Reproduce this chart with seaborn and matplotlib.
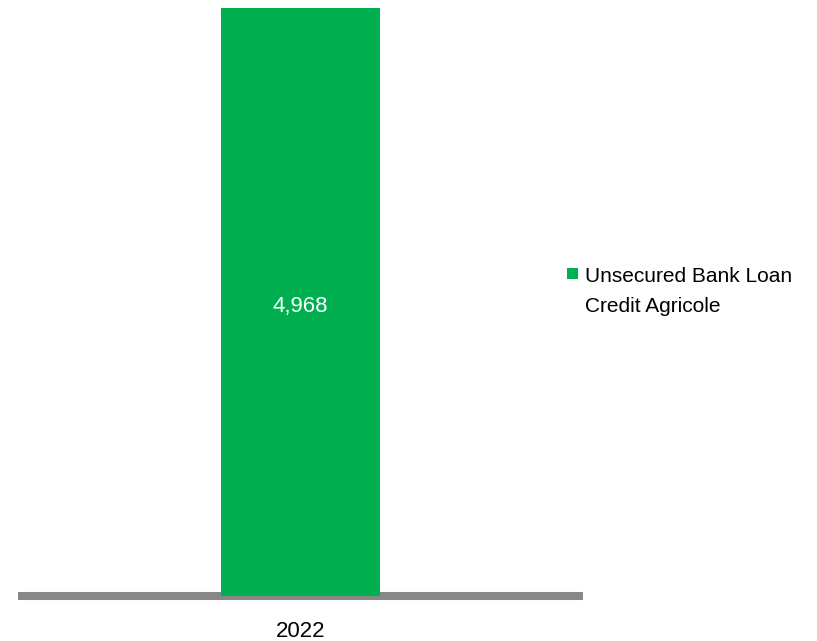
import matplotlib
matplotlib.use('Agg')
import matplotlib.pyplot as plt
import seaborn as sns
import pandas as pd
from matplotlib.patches import Patch, Rectangle
from matplotlib.legend_handler import HandlerPatch

# data
years = ['2022']
values = [4968]
series_name = 'Unsecured Bank Loan\nCredit Agricole'

df = pd.DataFrame({'year': years, 'value': values})

sns.set_style('white')
plt.rcParams['font.family'] = ['Liberation Sans', 'DejaVu Sans']

fig = plt.figure(figsize=(8.17, 6.41), dpi=100)
ax = fig.add_axes([18 / 817, 45 / 641, 565 / 817, 588 / 641])

sns.barplot(data=df, x='year', y='value', color='#00B050', saturation=1,
            width=0.281, ax=ax, zorder=2, linewidth=0, edgecolor='none')

ax.set_ylim(0, values[0])
ax.set_xlim(-0.5, 0.5)
ax.set_xlabel('')
ax.set_ylabel('')
ax.set_yticks([])
ax.tick_params(axis='x', length=0, labelsize=16, pad=18, colors='black')

for s in ['top', 'right', 'left']:
    ax.spines[s].set_visible(False)
ax.spines['bottom'].set_color('#878787')
ax.spines['bottom'].set_linewidth(5.8)
ax.spines['bottom'].set_capstyle('butt')
ax.spines['bottom'].set_zorder(1)

# value label, a little below the bar's middle
for i, v in enumerate(values):
    ax.annotate(f'{v:,}', (i, v / 2), xytext=(0, -3), textcoords='offset points',
                ha='center', va='center', color='white', fontsize=16)


# square sitting next to the first line of the label
def top_square(legend, orig_handle, xdescent, ydescent, width, height, fontsize):
    sq = width
    return Rectangle((-xdescent, -ydescent + height - sq + 3.6), sq, sq)


handle = Patch(facecolor='#00B050', edgecolor='none')
leg = fig.legend([handle], [series_name], loc='upper left',
                 bbox_to_anchor=(567 / 817, 1 - 267 / 641),
                 frameon=False, fontsize=15, handlelength=0.53, handleheight=2.6,
                 handletextpad=0.34, borderpad=0, borderaxespad=0,
                 handler_map={Patch: HandlerPatch(patch_func=top_square)})
for t in leg.get_texts():
    t.set_color('black')
    t.set_linespacing(1.75)

fig.savefig('out.png', dpi=100)
